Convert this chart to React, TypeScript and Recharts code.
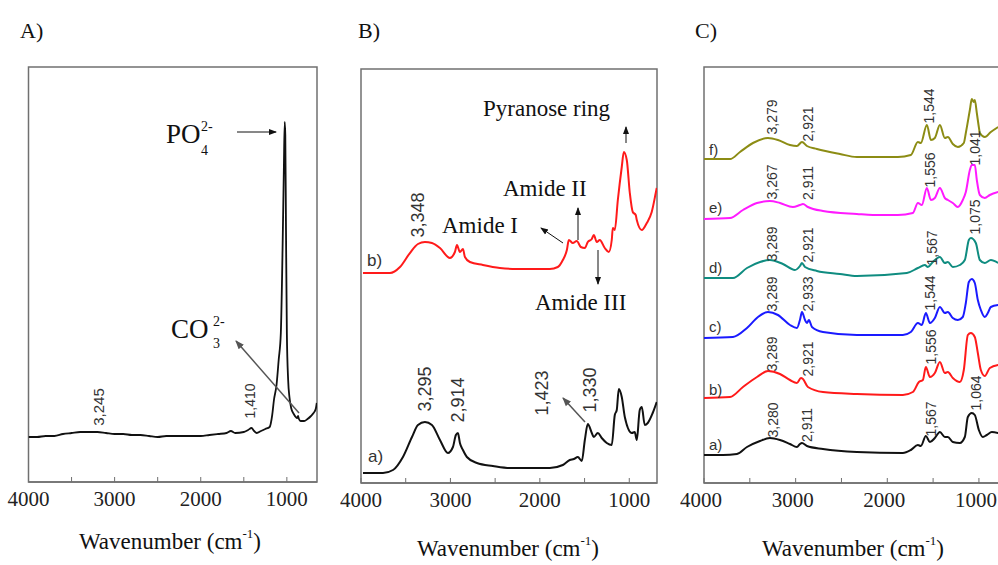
import { LineChart, Line, XAxis, YAxis, ReferenceArea } from "recharts";

type Pt = [number, number]; // [wavenumber cm-1, absorbance a.u.]

// A) hydroxyapatite
const specA: Pt[] = [
  [4000, 45], [3900, 45], [3800, 46], [3700, 46], [3600, 48], [3500, 49], [3400, 50], [3300, 50],
  [3200, 50], [3100, 49], [3000, 48], [2900, 48], [2800, 47], [2700, 47], [2600, 46], [2500, 45],
  [2400, 46], [2200, 46], [2000, 46], [1900, 47], [1800, 48], [1700, 49], [1650, 51], [1600, 49],
  [1500, 50], [1450, 52], [1410, 54], [1380, 51], [1350, 49], [1300, 51], [1250, 53], [1200, 55],
  [1170, 67], [1150, 82], [1120, 97], [1095, 122], [1070, 149], [1050, 232], [1035, 312], [1025, 360],
  [1018, 347], [1010, 252], [1000, 149], [985, 102], [970, 85], [950, 74], [920, 68], [880, 64],
  [870, 66], [860, 63], [840, 61], [800, 61], [760, 63], [720, 66], [690, 69], [665, 73], [653, 79],
];

// B) a) chitosan-free film, b) chitosan
const specBa: Pt[] = [
  [3978, 10], [3754, 10], [3642, 13], [3531, 26], [3430, 46], [3363, 58], [3285, 61], [3207, 58],
  [3117, 43], [3028, 30], [2972, 36], [2939, 48], [2916, 50], [2894, 40], [2860, 33], [2816, 26],
  [2704, 20], [2525, 17], [2335, 15], [1888, 15], [1743, 18], [1665, 23], [1620, 24], [1575, 26],
  [1531, 22], [1497, 43], [1464, 59], [1419, 50], [1397, 46], [1352, 50], [1308, 45], [1252, 40],
  [1196, 38], [1162, 68], [1140, 73], [1117, 94], [1084, 86], [1050, 66], [972, 50], [939, 51],
  [916, 43], [883, 73], [860, 76], [827, 58], [793, 60], [738, 70], [693, 81],
];
const specBb: Pt[] = [
  [3978, 210], [3676, 210], [3564, 216], [3453, 230], [3363, 239], [3285, 241], [3207, 240], [3117, 235],
  [3006, 225], [2950, 231], [2927, 238], [2894, 231], [2860, 234], [2838, 226], [2782, 221], [2637, 218],
  [2447, 215], [2257, 214], [1888, 214], [1799, 216], [1743, 223], [1698, 233], [1676, 243], [1631, 240],
  [1587, 242], [1542, 236], [1497, 235], [1464, 241], [1419, 244], [1397, 248], [1363, 241], [1330, 243],
  [1274, 235], [1229, 231], [1196, 243], [1184, 255], [1162, 253], [1128, 283], [1084, 316], [1061, 331],
  [1028, 323], [994, 290], [961, 271], [928, 268], [916, 263], [860, 253], [804, 260], [749, 271],
  [704, 290], [693, 295],
];

// C) composite films a) to f), stacked
const specCa: Pt[] = [
  [4000, 28], [3793, 28], [3640, 29], [3531, 36], [3389, 42], [3280, 45], [3171, 43], [3062, 39],
  [2986, 36], [2953, 39], [2931, 40], [2877, 37], [2702, 34], [2332, 31], [1830, 30], [1743, 33],
  [1666, 38], [1634, 37], [1579, 47], [1535, 41], [1481, 45], [1426, 51], [1372, 46], [1339, 46],
  [1285, 41], [1208, 40], [1154, 46], [1121, 66], [1078, 70], [1045, 68], [1001, 53], [957, 46],
  [914, 48], [859, 51], [790, 50],
];
const specCb: Pt[] = [
  [4000, 85], [3716, 86], [3575, 96], [3422, 106], [3302, 112], [3171, 109], [3062, 103], [2986, 100],
  [2942, 105], [2920, 104], [2866, 96], [2702, 91], [2332, 89], [1830, 88], [1721, 91], [1655, 101],
  [1612, 103], [1579, 116], [1535, 106], [1481, 110], [1426, 121], [1372, 110], [1339, 111], [1285, 105],
  [1208, 101], [1165, 113], [1121, 148], [1088, 150], [1045, 146], [1012, 130], [979, 113], [936, 107],
  [881, 115], [790, 118],
];
const specCc: Pt[] = [
  [4000, 145], [3684, 146], [3531, 155], [3411, 166], [3302, 171], [3193, 168], [3062, 158], [2986, 155],
  [2953, 163], [2931, 171], [2898, 163], [2877, 160], [2855, 163], [2822, 156], [2702, 151], [2332, 148],
  [1830, 148], [1743, 151], [1666, 160], [1623, 158], [1579, 170], [1535, 160], [1481, 165], [1426, 176],
  [1372, 170], [1339, 171], [1285, 165], [1230, 163], [1176, 166], [1143, 180], [1110, 201], [1078, 204],
  [1045, 200], [1012, 183], [979, 173], [936, 166], [903, 170], [870, 176], [790, 178],
];
const specCd: Pt[] = [
  [4000, 205], [3684, 205], [3531, 215], [3389, 221], [3280, 223], [3139, 219], [3008, 213], [2953, 217],
  [2931, 220], [2898, 216], [2768, 212], [2517, 209], [2332, 207], [1786, 210], [1666, 215], [1590, 218],
  [1557, 216], [1503, 221], [1426, 226], [1372, 220], [1339, 221], [1285, 216], [1208, 218], [1154, 223],
  [1110, 243], [1088, 245], [1034, 240], [990, 223], [936, 220], [870, 223], [790, 220],
];
const specCe: Pt[] = [
  [4000, 264], [3716, 265], [3575, 273], [3422, 280], [3280, 282], [3171, 280], [3030, 276], [2953, 278],
  [2920, 279], [2866, 276], [2702, 272], [2332, 269], [2157, 268], [1884, 268], [1721, 270], [1666, 280],
  [1623, 278], [1568, 295], [1524, 283], [1481, 285], [1426, 295], [1372, 285], [1339, 283], [1285, 280],
  [1230, 276], [1176, 283], [1143, 291], [1099, 313], [1078, 318], [1045, 318], [1023, 303], [990, 288],
  [936, 285], [881, 288], [790, 291],
];
const specCf: Pt[] = [
  [4000, 324], [3716, 324], [3607, 331], [3466, 340], [3302, 345], [3193, 343], [3062, 338], [2986, 337],
  [2931, 341], [2877, 337], [2768, 334], [2517, 329], [2332, 326], [1884, 326], [1743, 328], [1666, 341],
  [1634, 340], [1568, 358], [1524, 343], [1481, 345], [1426, 358], [1372, 345], [1339, 346], [1285, 339],
  [1230, 336], [1165, 340], [1143, 350], [1099, 373], [1078, 384], [1056, 381], [1045, 383], [1023, 370],
  [1001, 356], [990, 350], [936, 346], [870, 351], [790, 356],
];

const xTicks = [4000, 3500, 3000, 2500, 2000, 1500, 1000];

const SERIF = '"Liberation Serif", "DejaVu Serif", serif';
const SANS = '"Liberation Sans", Arial, sans-serif';
const FRAME = "#707070";

interface Series { pts: Pt[]; color: string; width?: number }

interface PanelProps {
  left: number;
  width: number;
  margin: { top: number; left: number; right: number; bottom: number };
  xMin: number;
  yMax: number;
  series: Series[];
  tickDx?: number;
}

const toRows = (pts: Pt[]) => pts.map(([w, a]) => ({ w, a }));

function Panel({ left, width, margin, xMin, yMax, series, tickDx = 0 }: PanelProps) {
  return (
    <div style={{ position: "absolute", left, top: 0 }}>
      <LineChart width={width} height={565} margin={margin}>
        <XAxis
          type="number"
          dataKey="w"
          domain={[xMin, 4000]}
          reversed
          allowDataOverflow
          ticks={xTicks}
          interval={0}
          tickFormatter={(v: number) => (v % 1000 === 0 ? String(v) : "")}
          tickSize={-5}
          tickMargin={14}
          height={30}
          axisLine={{ stroke: FRAME, strokeWidth: 1.5 }}
          tickLine={{ stroke: FRAME }}
          tick={{ fontSize: 21, fill: "#222", fontFamily: SERIF, dx: tickDx }}
        />
        <YAxis hide domain={[0, yMax]} allowDataOverflow />
        <ReferenceArea x1={xMin} x2={4000} y1={0} y2={yMax} fill="none" fillOpacity={0} stroke={FRAME} strokeWidth={1.5} />
        {series.map((s, i) => (
          <Line
            key={i}
            data={toRows(s.pts)}
            dataKey="a"
            type="monotone"
            stroke={s.color}
            strokeWidth={s.width ?? 2}
            dot={false}
            isAnimationActive={false}
          />
        ))}
      </LineChart>
    </div>
  );
}

function VLabel({ x, y, t, size }: { x: number; y: number; t: string; size: number }) {
  return (
    <text
      transform={`translate(${x},${y}) rotate(-90)`}
      textAnchor="middle"
      dominantBaseline="central"
      fontFamily={SANS}
      fontSize={size}
      fill="#333"
    >
      {t}
    </text>
  );
}

function AxisTitle({ x, y }: { x: number; y: number }) {
  return (
    <text x={x} y={y} textAnchor="middle" fontFamily={SERIF} fontSize={23} fill="#111">
      Wavenumber (cm
      <tspan fontSize={13} dy={-11}>-1</tspan>
      <tspan dy={11}>)</tspan>
    </text>
  );
}

const cLabels: [number, number, string][] = [
  [772, 117, "3,279"], [808, 124, "2,921"], [929, 106, "1,544"],
  [772, 182, "3,267"], [808, 183, "2,911"], [930, 170, "1,556"], [975, 148, "1,041"],
  [772, 244, "3,289"], [808, 245, "2,921"], [932, 248, "1,567"], [975, 217, "1,075"],
  [772, 294, "3,289"], [808, 294, "2,933"], [930, 293, "1,544"],
  [772, 354, "3,289"], [808, 359, "2,921"], [931, 347, "1,556"],
  [773, 420, "3,280"], [807, 425, "2,911"], [931, 419, "1,567"], [976, 393, "1,064"],
];

const cNames: [number, string][] = [
  [155, "f)"], [213, "e)"], [273, "d)"], [332, "c)"], [395, "b)"], [450, "a)"],
];

export default function App() {
  return (
    <div
      style={{
        position: "fixed",
        left: 0,
        top: 0,
        width: 998,
        height: 565,
        overflow: "hidden",
        background: "#fff",
      }}
    >
      <Panel
        left={0}
        width={340}
        margin={{ top: 67, left: 28.5, right: 23, bottom: 53 }}
        xMin={650}
        yMax={415}
        series={[{ pts: specA, color: "#111", width: 1.8 }]}
      />
      <Panel
        left={340}
        width={330}
        margin={{ top: 69, left: 21, right: 13, bottom: 52 }}
        xMin={690}
        yMax={414}
        series={[
          { pts: specBa, color: "#111" },
          { pts: specBb, color: "#ff1a1a" },
        ]}
      />
      <Panel
        left={680}
        width={340}
        margin={{ top: 67, left: 24, right: 9, bottom: 52 }}
        xMin={650}
        yMax={416}
        tickDx={-3}
        series={[
          { pts: specCa, color: "#111" },
          { pts: specCb, color: "#ff1a1a" },
          { pts: specCc, color: "#1a1aff" },
          { pts: specCd, color: "#0f8c80" },
          { pts: specCe, color: "#ff1aff" },
          { pts: specCf, color: "#8c8c14" },
        ]}
      />

      <svg width={998} height={565} style={{ position: "absolute", left: 0, top: 0, pointerEvents: "none" }}>
        <defs>
          <marker id="ah" markerWidth={8} markerHeight={8} refX={7} refY={4} orient="auto" markerUnits="userSpaceOnUse">
            <path d="M0,1 L8,4 L0,7 z" fill="#111" />
          </marker>
          <marker id="ahg" markerWidth={9} markerHeight={9} refX={8} refY={4.5} orient="auto" markerUnits="userSpaceOnUse">
            <path d="M0,1 L9,4.5 L0,8 z" fill="#555" />
          </marker>
        </defs>

        {/* panel letters */}
        <g fontFamily={SERIF} fontSize={22} fill="#111">
          <text x={20} y={38}>A)</text>
          <text x={358} y={38}>B)</text>
          <text x={695} y={38}>C)</text>
        </g>

        <AxisTitle x={170} y={549} />
        <AxisTitle x={508} y={556} />
        <AxisTitle x={853} y={556} />

        {/* A annotations */}
        <g fontFamily={SERIF} fill="#111">
          <text x={166} y={143} fontSize={27}>PO</text>
          <text x={201} y={131} fontSize={14}>2-</text>
          <text x={201} y={155} fontSize={14}>4</text>
          <text x={171} y={338} fontSize={27}>CO</text>
          <text x={213} y={326} fontSize={14}>2-</text>
          <text x={213} y={348} fontSize={14}>3</text>
        </g>
        <line x1={237} y1={132} x2={276} y2={132} stroke="#111" strokeWidth={1} markerEnd="url(#ah)" />
        <line x1={299} y1={413} x2={236} y2={341} stroke="#555" strokeWidth={1.5} markerEnd="url(#ahg)" />
        <VLabel x={98} y={407} t="3,245" size={15} />
        <VLabel x={250} y={401} t="1,410" size={14} />

        {/* B annotations */}
        <g fontFamily={SANS} fontSize={17} fill="#333">
          <text x={367} y={266}>b)</text>
          <text x={368} y={462}>a)</text>
        </g>
        <g fontFamily={SERIF} fontSize={23} fill="#111">
          <text x={442} y={233}>Amide I</text>
          <text x={503} y={196}>Amide II</text>
          <text x={483} y={116}>Pyranose ring</text>
          <text x={535} y={310}>Amide III</text>
        </g>
        <line x1={563} y1={243} x2={541} y2={228} stroke="#111" strokeWidth={1} markerEnd="url(#ah)" />
        <line x1={578} y1={240} x2={578} y2={208} stroke="#111" strokeWidth={1} markerEnd="url(#ah)" />
        <line x1={626} y1={143} x2={626} y2={127} stroke="#111" strokeWidth={1} markerEnd="url(#ah)" />
        <line x1={598} y1={250} x2={598} y2={284} stroke="#111" strokeWidth={1} markerEnd="url(#ah)" />
        <line x1={585} y1={422} x2={563} y2={398} stroke="#555" strokeWidth={1.5} markerEnd="url(#ahg)" />
        <VLabel x={418} y={215} t="3,348" size={18} />
        <VLabel x={425} y={389} t="3,295" size={18} />
        <VLabel x={458} y={400} t="2,914" size={18} />
        <VLabel x={542} y={393} t="1,423" size={18} />
        <VLabel x={590} y={390} t="1,330" size={18} />

        {/* C annotations */}
        {cLabels.map(([x, y, t], i) => (
          <VLabel key={i} x={x} y={y} t={t} size={14} />
        ))}
        <g fontFamily={SANS} fontSize={15} fill="#333">
          {cNames.map(([y, t]) => (
            <text key={t} x={709} y={y}>{t}</text>
          ))}
        </g>
      </svg>
    </div>
  );
}
